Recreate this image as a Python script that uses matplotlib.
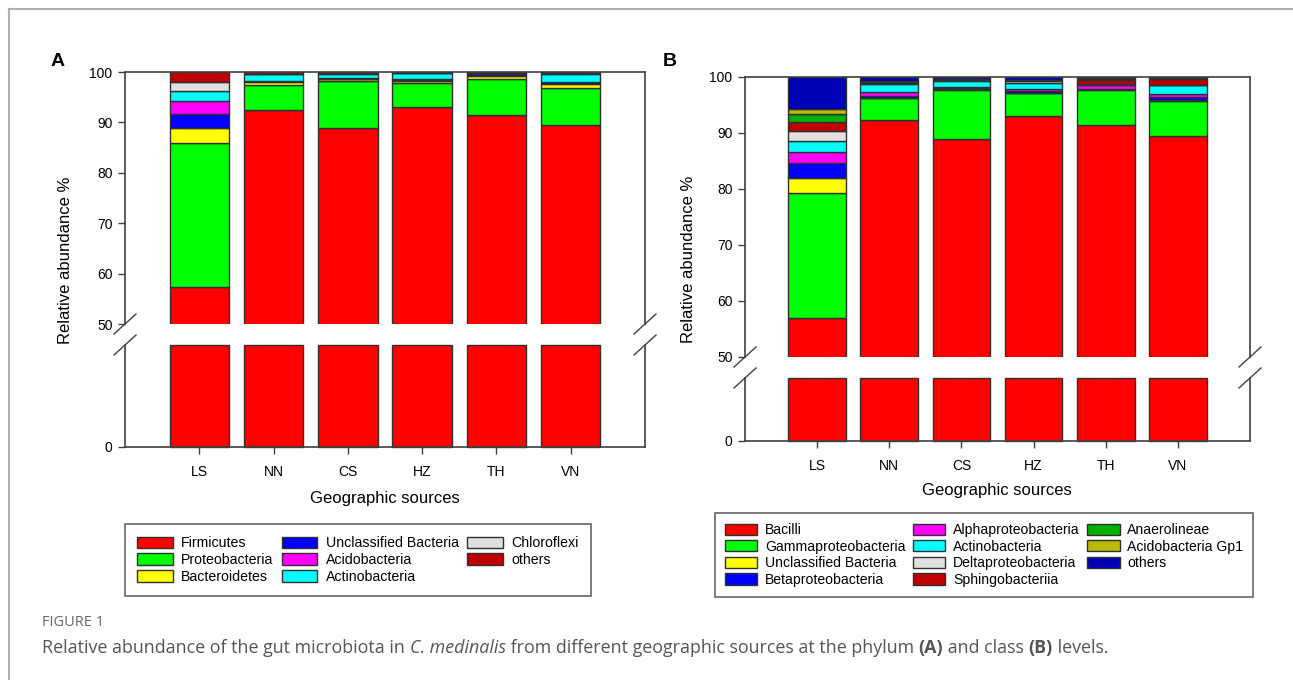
import numpy as np
import matplotlib
matplotlib.use('Agg')
import matplotlib.pyplot as plt
from matplotlib.lines import Line2D
from matplotlib.patches import Patch

W, H = 1293, 680
plt.rcParams['font.family'] = ['Liberation Sans', 'DejaVu Sans']

sites = ['LS', 'NN', 'CS', 'HZ', 'TH', 'VN']

# phylum level (panel A), stacked bottom -> top
phyla = ['Firmicutes', 'Proteobacteria', 'Bacteroidetes', 'Unclassified Bacteria',
         'Acidobacteria', 'Actinobacteria', 'Chloroflexi', 'others']
firmicutes = [57.4, 92.4, 88.8, 93.0, 91.4, 89.4]
proteobacteria = [28.6, 5.0, 9.5, 4.9, 7.2, 7.4]
bacteroidetes = [2.86, 0.7, 0.3, 0.3, 0.7, 0.9]
unclassified_a = [2.84, 0.1, 0.1, 0.2, 0.3, 0.3]
acidobacteria = [2.6, 0.1, 0.2, 0.3, 0.1, 0.1]
actinobacteria_a = [2.0, 1.3, 0.8, 1.1, 0.1, 1.6]
chloroflexi = [1.8, 0.1, 0.1, 0.1, 0.1, 0.1]
others_a = [1.9, 0.3, 0.2, 0.1, 0.1, 0.2]
phylum_values = [firmicutes, proteobacteria, bacteroidetes, unclassified_a,
                 acidobacteria, actinobacteria_a, chloroflexi, others_a]
phylum_colors = ['#FF0000', '#00FF00', '#FFFF00', '#0000FF', '#FF00FF',
                 '#00FFFF', '#E0E0E0', '#C00000']

# class level (panel B), stacked bottom -> top
classes = ['Bacilli', 'Gammaproteobacteria', 'Unclassified Bacteria', 'Betaproteobacteria',
           'Alphaproteobacteria', 'Actinobacteria', 'Deltaproteobacteria', 'Sphingobacteriia',
           'Anaerolineae', 'Acidobacteria Gp1', 'others']
bacilli = [57.0, 92.4, 88.9, 93.0, 91.5, 89.5]
gamma = [22.2, 3.8, 8.8, 4.1, 6.2, 6.3]
unclassified_b = [2.7, 0.1, 0.1, 0.1, 0.1, 0.1]
beta = [2.7, 0.3, 0.2, 0.3, 0.1, 0.6]
alpha = [2.0, 0.8, 0.3, 0.4, 0.6, 0.5]
actinobacteria_b = [2.0, 1.3, 0.9, 1.1, 0.1, 1.5]
delta = [1.76, 0.2, 0.2, 0.2, 0.1, 0.1]
sphingo = [1.64, 0.2, 0.2, 0.2, 0.8, 1.1]
anaerolineae = [1.4, 0.05, 0.05, 0.05, 0.1, 0.05]
acido_gp1 = [0.95, 0.05, 0.05, 0.05, 0.2, 0.05]
others_b = [5.65, 0.8, 0.3, 0.5, 0.2, 0.2]
class_values = [bacilli, gamma, unclassified_b, beta, alpha, actinobacteria_b,
                delta, sphingo, anaerolineae, acido_gp1, others_b]
class_colors = ['#FF0000', '#00FF00', '#FFFF00', '#0000FF', '#FF00FF', '#00FFFF',
                '#E0E0E0', '#C00000', '#00B000', '#BABA00', '#0000B4']

EDGE = '#303030'
AX = '#404040'

fig = plt.figure(figsize=(W / 100, H / 100), dpi=100)


def box(x0, y0, x1, y1):
    # pixel box (y from top) -> figure fraction rect
    return [x0 / W, 1 - y1 / H, (x1 - x0) / W, (y1 - y0) / H]


def fline(xs, ys, **kw):
    fig.add_artist(Line2D([x / W for x in xs], [1 - y / H for y in ys], **kw))


def panel(top, bottom, values, colors):
    ax_t = fig.add_axes(box(*top))
    ax_b = fig.add_axes(box(*bottom))
    x = np.arange(len(sites))
    base = np.zeros(len(sites))
    for v, c in zip(values, colors):
        v = np.array(v)
        ax_t.bar(x, v, 0.8, bottom=base, color=c, edgecolor=EDGE, linewidth=1)
        base += v
    ax_b.bar(x, np.minimum(values[0], 50), 0.8, color=colors[0],
             edgecolor=EDGE, linewidth=1, clip_on=False)

    ax_t.set_ylim(50, 100)
    ax_b.set_ylim(0, 50)
    for ax in (ax_t, ax_b):
        ax.set_xlim(-1, 6)
        for s in ax.spines.values():
            s.set_color(AX)
            s.set_linewidth(1.2)
        ax.tick_params(direction='out', length=5, width=1, color=AX,
                       labelsize=10, pad=4)
    ax_t.spines['bottom'].set_visible(False)
    ax_b.spines['top'].set_visible(False)
    ax_t.set_xticks([])
    ax_t.set_yticks(range(50, 101, 10))
    ax_b.set_yticks([0])
    ax_b.set_xticks(x)
    ax_b.set_xticklabels(sites)
    ax_b.tick_params(axis='x', pad=8)

    # break marks on both spines
    for xs in (top[0], top[2]):
        for ys in (top[3], bottom[1]):
            fline([xs - 11, xs + 11], [ys + 10, ys - 10], color=AX, lw=1)
    return ax_t, ax_b


panel((125, 72, 645, 324), (125, 345, 645, 447), phylum_values, phylum_colors)
panel((745, 77, 1250, 357), (745, 378, 1250, 441), class_values, class_colors)

# labels
fig.text(58 / W, 1 - 62 / H, 'A', fontsize=14, fontweight='bold', ha='center', va='center')
fig.text(670 / W, 1 - 62 / H, 'B', fontsize=14, fontweight='bold', ha='center', va='center')
fig.text(66 / W, 1 - 260 / H, 'Relative abundance %', fontsize=12, rotation=90,
         ha='center', va='center')
fig.text(688 / W, 1 - 259 / H, 'Relative abundance %', fontsize=12, rotation=90,
         ha='center', va='center')
fig.text(385 / W, 1 - 498 / H, 'Geographic sources', fontsize=12, ha='center', va='center')
fig.text(997 / W, 1 - 491 / H, 'Geographic sources', fontsize=12, ha='center', va='center')

# legends
h_a = [Patch(facecolor=c, edgecolor=EDGE, linewidth=1) for c in phylum_colors]
leg_a = fig.legend(h_a, phyla, loc='center', bbox_to_anchor=(358 / W, 1 - 560 / H),
                   ncol=3, fontsize=10.2, frameon=True, fancybox=False,
                   handlelength=2.5, handleheight=0.85, handletextpad=0.6,
                   labelspacing=0.2, columnspacing=0.6, borderpad=0.85)
h_b = [Patch(facecolor=c, edgecolor=EDGE, linewidth=1) for c in class_colors]
leg_b = fig.legend(h_b, classes, loc='center', bbox_to_anchor=(984 / W, 1 - 555 / H),
                   ncol=3, fontsize=10.1, frameon=True, fancybox=False,
                   handlelength=2.3, handleheight=0.85, handletextpad=0.55,
                   labelspacing=0.18, columnspacing=0.55, borderpad=0.7)
for lg in (leg_a, leg_b):
    fr = lg.get_frame()
    fr.set_edgecolor(AX)
    fr.set_linewidth(1.2)

# page frame
fline([9, W], [9, 9], color='#b0b0b0', lw=1.5)
fline([9, 9], [9, H], color='#b0b0b0', lw=1.5)

# caption
fig.text(42 / W, 1 - 623 / H, 'FIGURE 1', fontsize=10.5, color='#666666',
         family='Open Sans', va='center')
fig.canvas.draw()
r = fig.canvas.get_renderer()
parts = [('Relative abundance of the gut microbiota in ', 'normal', 'normal'),
         ('C. medinalis', 'italic', 'normal'),
         (' from different geographic sources at the phylum ', 'normal', 'normal'),
         ('(A)', 'normal', 'bold'),
         (' and class ', 'normal', 'normal'),
         ('(B)', 'normal', 'bold'),
         (' levels.', 'normal', 'normal')]
xc = 42
for s, st, wt in parts:
    t = fig.text(xc / W, 1 - 648 / H, s, fontsize=12.9, color='#555555',
                 family='Open Sans', style=st, fontweight=wt, va='center')
    xc += t.get_window_extent(r).width

fig.savefig('out.png', dpi=100)
